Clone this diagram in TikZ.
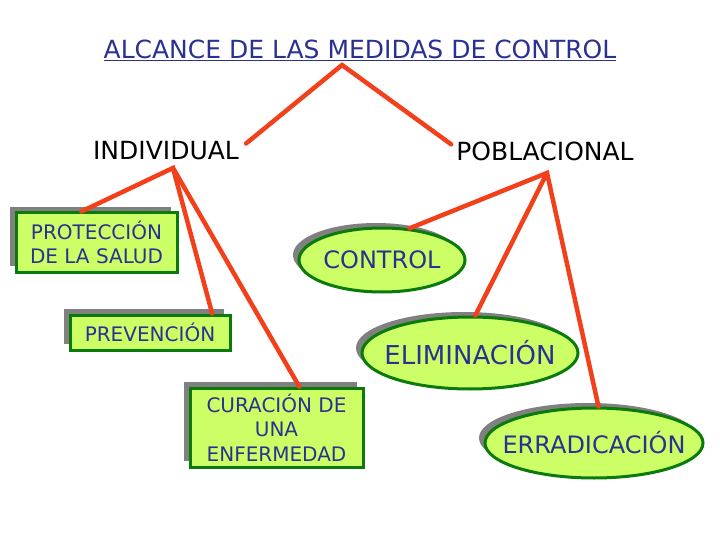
\documentclass[tikz,border=0pt]{standalone}
\usepackage{fontspec}
\setmainfont{DejaVu Sans}
\usetikzlibrary{shapes.geometric,shadows,calc}
\definecolor{rojo}{HTML}{F2401A}
\definecolor{verde}{HTML}{0A7A0A}
\definecolor{lima}{HTML}{CCFF66}
\definecolor{azul}{HTML}{2B3190}
\tikzset{
    caja/.style =   {rectangle,
                    fill=lima,
                    draw=verde,
                    text=azul,
                    line width=3pt,
                    align=center,
                    inner sep=0pt,
                    font=\fontsize{20}{24.5}\selectfont,
                    drop shadow={shadow xshift=-6pt,shadow yshift=6pt,fill=gray,opacity=1}},
    elipse/.style = {ellipse,
                    fill=lima,
                    draw=verde,
                    text=azul,
                    line width=3pt,
                    inner xsep=-40pt,
                    inner ysep=0pt,
                    font=\fontsize{24}{28}\selectfont,
                    drop shadow={shadow xshift=-6pt,shadow yshift=5pt,fill=gray,opacity=1}},
    nivel/.style =  {text=black,
                    inner sep=0pt,
                    font=\fontsize{25}{29}\selectfont},
    -,
    rama/.style =   {draw=rojo,
                    line width=4.5pt,
                    line cap=round}}

\begin{document}
\begin{tikzpicture}[x=1pt,y=-1pt]
                \useasboundingbox (0,0) rectangle (720,540);
                \node[text=azul,font=\fontsize{25}{29}\selectfont,inner sep=0pt] (titulo) at (360,50) {\underline{ALCANCE DE LAS MEDIDAS DE CONTROL}};
                \node[nivel]        (indiv) at (166,151)    {INDIVIDUAL};
                \node[nivel]        (pobla) at (545,151)    {POBLACIONAL};
                \node[caja,minimum width=161pt,minimum height=59pt] (prot) at (96.5,242.5)  {PROTECCIÓN\\DE LA SALUD};
                \node[caja,minimum width=160pt,minimum height=35pt] (prev) at (150,332.5)   {PREVENCIÓN};
                \node[caja,minimum width=173pt,minimum height=79pt] (cura) at (276.5,427.5) {CURACIÓN DE\\UNA\\ENFERMEDAD};
                \node[elipse,minimum width=166pt,minimum height=64pt] (ctrl) at (382,260)   {CONTROL};
                \node[elipse,minimum width=216pt,minimum height=72pt,font=\fontsize{26}{30}\selectfont] (elim) at (470,353) {ELIMINACIÓN};
                \node[elipse,minimum width=218pt,minimum height=70pt] (erra) at (594,443)   {ERRADICACIÓN};
                \coordinate (cima)  at (342,65);
                \coordinate (pind)  at (173,168);
                \coordinate (ppob)  at (547,173);
                \path [rama]    ($(indiv.north east)+(7,2)$) -- (cima) -- ($(pobla.north west)+(-5,3)$);
                \path [rama]    (prot.116) -- (pind) -- (prev.17);
                \path [rama]    (pind) -- (cura.61);
                \path [rama]    (ctrl.49) -- (ppob) -- (erra.83);
                \path [rama]    (ppob) -- (elim.82);
        \end{tikzpicture}
\end{document}
